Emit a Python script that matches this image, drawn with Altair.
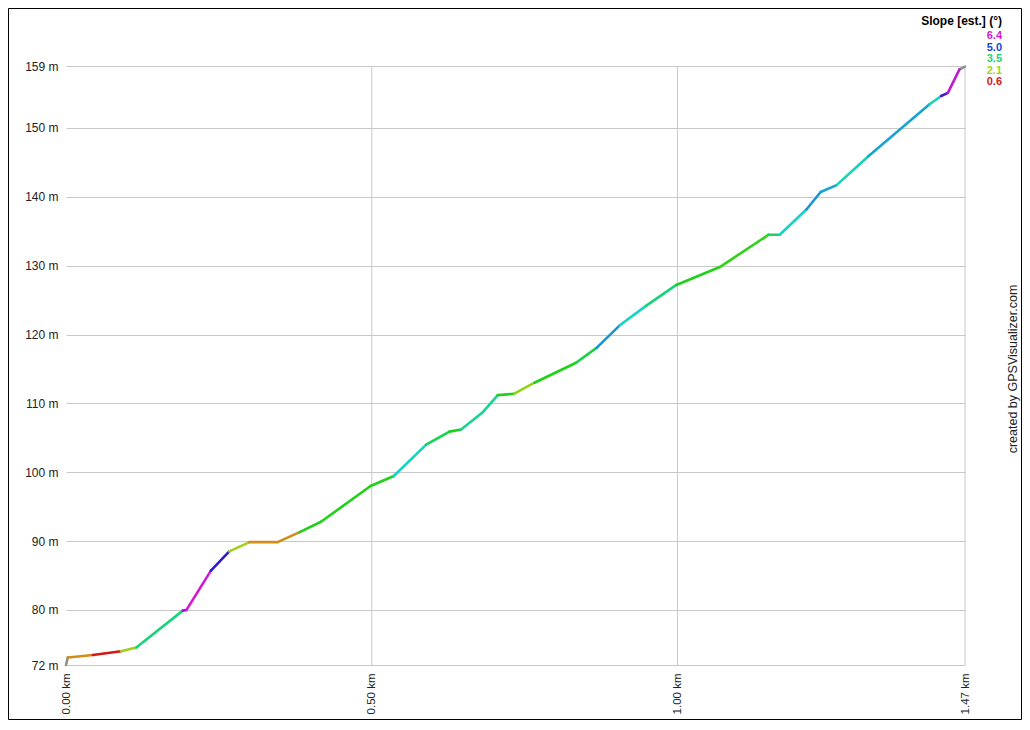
import altair as alt
import pandas as pd

# ---- data ----
dist_km = [0.000, 0.003, 0.044, 0.090, 0.115, 0.191, 0.197, 0.237, 0.267, 0.300,
           0.346, 0.382, 0.417, 0.498, 0.536, 0.589, 0.627, 0.646, 0.682, 0.706,
           0.733, 0.766, 0.834, 0.868, 0.905, 0.949, 0.998, 1.069, 1.149, 1.167,
           1.211, 1.234, 1.260, 1.312, 1.412, 1.431, 1.442, 1.461, 1.470]
elev_m = [72.0, 73.1, 73.45, 74.0, 74.55, 79.9, 80.0, 85.7, 88.5, 89.85,
          89.85, 91.3, 92.8, 98.0, 99.45, 104.0, 105.9, 106.2, 108.75, 111.2,
          111.4, 113.0, 115.9, 118.1, 121.3, 124.2, 127.2, 129.8, 134.5, 134.5,
          138.2, 140.7, 141.7, 145.9, 153.45, 154.65, 155.1, 158.5, 158.9]
# slope (deg) of each segment between consecutive points; None = no estimate (grey)
seg_slope = [None, 1.35, 0.6, 2.15, 3.55, 6.0, 6.4, 5.4, 2.15, 1.35,
             1.35, 2.9, 2.9, 2.9, 4.0, 3.3, 2.9, 3.7, 3.7, 2.9,
             2.2, 2.9, 3.2, 4.5, 4.0, 3.5, 2.9, 2.8, 3.4, 4.0,
             4.5, 4.4, 3.9, 4.4, 3.9, 5.6, 6.3, None]

y_ticks = [72, 80, 90, 100, 110, 120, 130, 140, 150, 159]
x_ticks = [0.0, 0.5, 1.0, 1.47]
x_grid = [0.5, 1.0, 1.47]
legend_title = "Slope [est.] (°)"
legend_vals = [6.4, 5.0, 3.5, 2.1, 0.6]
credit = "created by GPSVisualizer.com"

seg = pd.DataFrame({
    "d0": dist_km[:-1], "d1": dist_km[1:],
    "e0": elev_m[:-1], "e1": elev_m[1:],
    "slope": seg_slope,
})

FONT = "Liberation Sans"
W, H = 899, 599

xs = alt.Scale(domain=[0, 1.47], nice=False, zero=False)
ys = alt.Scale(domain=[72, 159], nice=False, zero=False)
cs = alt.Scale(domain=[0.6, 2.1, 3.5, 5.0, 6.4],
               range=["hsl(0,80%,46%)", "hsl(75,80%,46%)", "hsl(150,80%,46%)",
                      "hsl(225,80%,46%)", "hsl(300,80%,46%)"],
               interpolate="hsl")

xaxis = alt.Axis(values=x_ticks, labelExpr="format(datum.value, '.2f') + ' km'",
                 labelAngle=-90, labelAlign="right", labelBaseline="middle",
                 labelFlush=False, labelOverlap=False, grid=False, domain=False,
                 ticks=False, labelPadding=8, labelFont=FONT, labelFontSize=11.5,
                 labelColor="#222", title=None)
yaxis = alt.Axis(values=y_ticks, labelExpr="datum.value + ' m'", grid=True,
                 gridColor="#c8c8c8", gridWidth=1, domain=False, ticks=False,
                 labelPadding=8, labelFont=FONT, labelFontSize=12,
                 labelColor="#222", labelFlush=False, labelOverlap=False, title=None)

X = lambda f: alt.X(f, scale=xs, axis=xaxis)
Y = lambda f: alt.Y(f, scale=ys, axis=yaxis)

vgrid = alt.Chart(pd.DataFrame({"g": x_grid})).mark_rule(
    color="#c8c8c8", strokeWidth=1).encode(x=X("g:Q"))

colored = alt.Chart(seg).transform_filter("isValid(datum.slope)").mark_rule(
    strokeWidth=2.6, strokeCap="round").encode(
    x=X("d0:Q"), x2="d1:Q", y=Y("e0:Q"), y2="e1:Q",
    color=alt.Color("slope:Q", scale=cs, legend=None))

grey = alt.Chart(seg).transform_filter("!isValid(datum.slope)").mark_rule(
    strokeWidth=2.6, strokeCap="round", color="#8a958a").encode(
    x=X("d0:Q"), x2="d1:Q", y=Y("e0:Q"), y2="e1:Q")

layers = [vgrid, grey, colored]

layers.append(alt.Chart(pd.DataFrame({"t": [legend_title]})).mark_text(
    align="right", baseline="middle", font=FONT, fontSize=12, fontWeight="bold",
    color="#000").encode(text="t:N", x=alt.value(936), y=alt.value(-45)))

for i, v in enumerate(legend_vals):
    layers.append(alt.Chart(pd.DataFrame({"v": [v]})).mark_text(
        align="right", baseline="middle", font=FONT, fontSize=11, fontWeight="bold").encode(
        text=alt.Text("v:Q", format=".1f"),
        color=alt.Color("v:Q", scale=cs, legend=None),
        x=alt.value(936), y=alt.value(-30 + i * 11.5)))

layers.append(alt.Chart(pd.DataFrame({"t": [credit]})).mark_text(
    angle=270, align="center", baseline="middle", font=FONT, fontSize=12.5,
    color="#222").encode(text="t:N", x=alt.value(947), y=alt.value(303)))

layers.append(alt.Chart(pd.DataFrame({"f": [0]})).mark_rect(
    filled=False, stroke="#000", strokeWidth=1).encode(
    x=alt.value(-57.5), x2=alt.value(955.5), y=alt.value(-57.5), y2=alt.value(653.5)))

chart = alt.layer(*layers).properties(
    width=W, height=H,
    padding={"left": 58, "top": 58, "right": 57, "bottom": 55},
    autosize=alt.AutoSizeParams(type="none"),
    background="white",
).configure_view(stroke=None)

chart.save("out.html", embed_options={"renderer": "svg", "actions": False})
